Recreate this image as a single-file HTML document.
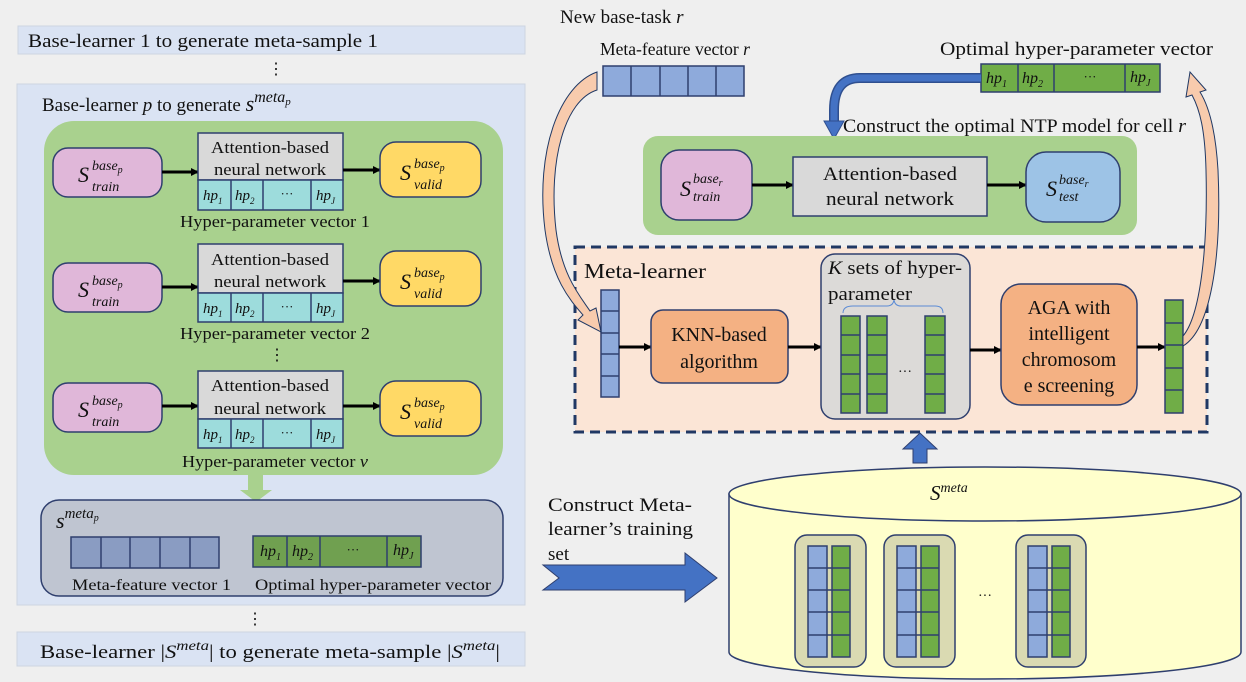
<!DOCTYPE html>
<html><head><meta charset="utf-8"><style>
body{margin:0;background:#efefef}
svg{display:block}
text{font-family:"Liberation Serif",serif;fill:#111}
.i{font-style:italic}
</style></head><body>
<svg width="1246" height="682" viewBox="0 0 1246 682" xmlns="http://www.w3.org/2000/svg">
<defs>
<marker id="ah" markerWidth="8" markerHeight="8" refX="7" refY="4" orient="auto" markerUnits="userSpaceOnUse"><path d="M0,0 L8,4 L0,8 z" fill="#000"/></marker>
</defs>
<rect width="1246" height="682" fill="#efefef"/>
<!-- LEFT -->
<rect x="18" y="26" width="507" height="28" fill="#dae3f3" stroke="#cdd5e2"/>
<text x="28" y="47" font-size="19" textLength="350" lengthAdjust="spacingAndGlyphs">Base-learner 1 to generate meta-sample 1</text>
<text x="268" y="74" font-size="16">⋮</text>
<rect x="17" y="84" width="508" height="521" fill="#dae3f3" stroke="#cdd5e2"/>
<text x="42" y="111" font-size="19">Base-learner <tspan class="i">p</tspan> to generate <tspan class="i" font-size="22">s</tspan><tspan class="i" dy="-9" font-size="16">meta</tspan><tspan class="i" dy="3" font-size="11">p</tspan></text>
<rect x="44" y="121" width="459" height="354" rx="30" fill="#a9d18e"/>
<g>
<rect x="53" y="148" width="109" height="49" rx="15" fill="#e0b7d9" stroke="#2f3f6e" stroke-width="1.5"/>
<text x="78" y="182" class="i" font-size="22">S</text><text x="92" y="170" class="i" font-size="14">base<tspan font-size="10" dy="3">p</tspan></text><text x="92" y="191" class="i" font-size="14">train</text>
<line x1="162" y1="172" x2="198" y2="172" stroke="#000" stroke-width="3" marker-end="url(#ah)"/>
<rect x="198" y="133" width="145" height="47" fill="#d9d9d9" stroke="#2f3f6e" stroke-width="1.5"/>
<text x="270" y="153" font-size="17" text-anchor="middle" textLength="118" lengthAdjust="spacingAndGlyphs">Attention-based</text><text x="270" y="175" font-size="17" text-anchor="middle" textLength="112" lengthAdjust="spacingAndGlyphs">neural network</text>
<rect x="198" y="180" width="145" height="30" fill="#9ddcdc" stroke="#2f3f6e" stroke-width="1.5"/>
<path d="M231,180V210M263,180V210M311,180V210" stroke="#2f3f6e" stroke-width="1.5"/>
<text x="203" y="200" class="i" font-size="15">hp<tspan font-size="9" dy="4">1</tspan></text><text x="235" y="200" class="i" font-size="15">hp<tspan font-size="9" dy="4">2</tspan></text><text x="287" y="198" font-size="13" text-anchor="middle">···</text><text x="316" y="200" class="i" font-size="15">hp<tspan font-size="9" dy="4">J</tspan></text>
<line x1="343" y1="170" x2="380" y2="170" stroke="#000" stroke-width="3" marker-end="url(#ah)"/>
<rect x="380" y="142" width="101" height="55" rx="16" fill="#ffd966" stroke="#2f3f6e" stroke-width="1.5"/>
<text x="400" y="180" class="i" font-size="22">S</text><text x="414" y="168" class="i" font-size="14">base<tspan font-size="10" dy="3">p</tspan></text><text x="414" y="189" class="i" font-size="14">valid</text>
<text x="275" y="227" font-size="17" text-anchor="middle" textLength="190" lengthAdjust="spacingAndGlyphs">Hyper-parameter vector 1</text>
</g>
<g transform="translate(0,113)">
<rect x="53" y="150" width="109" height="49" rx="15" fill="#e0b7d9" stroke="#2f3f6e" stroke-width="1.5"/>
<text x="78" y="184" class="i" font-size="22">S</text><text x="92" y="172" class="i" font-size="14">base<tspan font-size="10" dy="3">p</tspan></text><text x="92" y="193" class="i" font-size="14">train</text>
<line x1="162" y1="174" x2="198" y2="174" stroke="#000" stroke-width="3" marker-end="url(#ah)"/>
<rect x="198" y="131" width="145" height="49" fill="#d9d9d9" stroke="#2f3f6e" stroke-width="1.5"/>
<text x="270" y="152" font-size="17" text-anchor="middle" textLength="118" lengthAdjust="spacingAndGlyphs">Attention-based</text><text x="270" y="174" font-size="17" text-anchor="middle" textLength="112" lengthAdjust="spacingAndGlyphs">neural network</text>
<rect x="198" y="180" width="145" height="29" fill="#9ddcdc" stroke="#2f3f6e" stroke-width="1.5"/>
<path d="M231,180V209M263,180V209M311,180V209" stroke="#2f3f6e" stroke-width="1.5"/>
<text x="203" y="200" class="i" font-size="15">hp<tspan font-size="9" dy="4">1</tspan></text><text x="235" y="200" class="i" font-size="15">hp<tspan font-size="9" dy="4">2</tspan></text><text x="287" y="198" font-size="13" text-anchor="middle">···</text><text x="316" y="200" class="i" font-size="15">hp<tspan font-size="9" dy="4">J</tspan></text>
<line x1="343" y1="168" x2="380" y2="168" stroke="#000" stroke-width="3" marker-end="url(#ah)"/>
<rect x="380" y="138" width="101" height="55" rx="16" fill="#ffd966" stroke="#2f3f6e" stroke-width="1.5"/>
<text x="400" y="176" class="i" font-size="22">S</text><text x="414" y="164" class="i" font-size="14">base<tspan font-size="10" dy="3">p</tspan></text><text x="414" y="185" class="i" font-size="14">valid</text>
<text x="275" y="226" font-size="17" text-anchor="middle" textLength="190" lengthAdjust="spacingAndGlyphs">Hyper-parameter vector 2</text>
</g>
<text x="269" y="360" font-size="16">⋮</text>
<g transform="translate(0,238)">
<rect x="53" y="145" width="109" height="49" rx="15" fill="#e0b7d9" stroke="#2f3f6e" stroke-width="1.5"/>
<text x="78" y="179" class="i" font-size="22">S</text><text x="92" y="167" class="i" font-size="14">base<tspan font-size="10" dy="3">p</tspan></text><text x="92" y="188" class="i" font-size="14">train</text>
<line x1="162" y1="168" x2="198" y2="168" stroke="#000" stroke-width="3" marker-end="url(#ah)"/>
<rect x="198" y="133" width="145" height="48" fill="#d9d9d9" stroke="#2f3f6e" stroke-width="1.5"/>
<text x="270" y="153" font-size="17" text-anchor="middle" textLength="118" lengthAdjust="spacingAndGlyphs">Attention-based</text><text x="270" y="176" font-size="17" text-anchor="middle" textLength="112" lengthAdjust="spacingAndGlyphs">neural network</text>
<rect x="198" y="181" width="145" height="29" fill="#9ddcdc" stroke="#2f3f6e" stroke-width="1.5"/>
<path d="M231,181V210M263,181V210M311,181V210" stroke="#2f3f6e" stroke-width="1.5"/>
<text x="203" y="201" class="i" font-size="15">hp<tspan font-size="9" dy="4">1</tspan></text><text x="235" y="201" class="i" font-size="15">hp<tspan font-size="9" dy="4">2</tspan></text><text x="287" y="199" font-size="13" text-anchor="middle">···</text><text x="316" y="201" class="i" font-size="15">hp<tspan font-size="9" dy="4">J</tspan></text>
<line x1="343" y1="168" x2="380" y2="168" stroke="#000" stroke-width="3" marker-end="url(#ah)"/>
<rect x="380" y="143" width="101" height="55" rx="16" fill="#ffd966" stroke="#2f3f6e" stroke-width="1.5"/>
<text x="400" y="181" class="i" font-size="22">S</text><text x="414" y="169" class="i" font-size="14">base<tspan font-size="10" dy="3">p</tspan></text><text x="414" y="190" class="i" font-size="14">valid</text>
<text x="275" y="229" font-size="17" text-anchor="middle" textLength="186" lengthAdjust="spacingAndGlyphs">Hyper-parameter vector <tspan class="i">v</tspan></text>
</g>
<path d="M248,475H263V490H272L256,502L240,490H248Z" fill="#a9d18e"/>
<rect x="41" y="500" width="462" height="96" rx="18" fill="#bfc5d1" stroke="#2f3f6e" stroke-width="1.5"/>
<text x="56" y="528" class="i" font-size="22">s<tspan font-size="15" dy="-10">meta</tspan><tspan font-size="10" dy="3">p</tspan></text>
<rect x="71" y="537" width="148" height="31" fill="#8a9cc2" stroke="#2f3f6e" stroke-width="1.5"/>
<path d="M101,537V568M130,537V568M160,537V568M190,537V568" stroke="#2f3f6e" stroke-width="1.5"/>
<rect x="253" y="536" width="168" height="31" fill="#70a050" stroke="#2f3f6e" stroke-width="1.5"/>
<path d="M287,536V567M320,536V567M387,536V567" stroke="#2f3f6e" stroke-width="1.5"/>
<text x="260" y="556" class="i" font-size="16">hp<tspan font-size="10" dy="4">1</tspan></text><text x="292" y="556" class="i" font-size="16">hp<tspan font-size="10" dy="4">2</tspan></text><text x="353" y="554" font-size="13" text-anchor="middle">···</text><text x="393" y="555" class="i" font-size="16">hp<tspan font-size="10" dy="4">J</tspan></text>
<text x="72" y="590" font-size="16" fill="#333" textLength="159" lengthAdjust="spacingAndGlyphs">Meta-feature vector 1</text>
<text x="255" y="590" font-size="16" fill="#333" textLength="236" lengthAdjust="spacingAndGlyphs">Optimal hyper-parameter vector</text>
<text x="247" y="624" font-size="16">⋮</text>
<rect x="17" y="632" width="508" height="34" fill="#dae3f3" stroke="#cdd5e2"/>
<text x="40" y="658" font-size="19" textLength="460" lengthAdjust="spacingAndGlyphs">Base-learner |<tspan class="i">S</tspan><tspan class="i" font-size="14" dy="-8">meta</tspan><tspan dy="8">| to generate meta-sample |</tspan><tspan class="i">S</tspan><tspan class="i" font-size="14" dy="-8">meta</tspan><tspan dy="8">|</tspan></text>

<!-- RIGHT -->
<text x="560" y="23" font-size="19">New base-task <tspan class="i">r</tspan></text>
<text x="600" y="55" font-size="18" textLength="150" lengthAdjust="spacingAndGlyphs">Meta-feature vector <tspan class="i">r</tspan></text>
<rect x="603" y="66" width="141" height="30" fill="#8eaadb" stroke="#2f3f6e" stroke-width="1.5"/>
<path d="M631,66V96M660,66V96M688,66V96M716,66V96" stroke="#2f3f6e" stroke-width="1.5"/>
<text x="940" y="55" font-size="19" textLength="273" lengthAdjust="spacingAndGlyphs">Optimal hyper-parameter vector</text>
<rect x="981" y="64" width="179" height="28" fill="#70ad47" stroke="#2f3f6e" stroke-width="1.5"/>
<path d="M1018,64V92M1054,64V92M1125,64V92" stroke="#2f3f6e" stroke-width="1.5"/>
<text x="986" y="83" class="i" font-size="16">hp<tspan font-size="10" dy="4">1</tspan></text><text x="1022" y="83" class="i" font-size="16">hp<tspan font-size="10" dy="4">2</tspan></text><text x="1090" y="81" font-size="13" text-anchor="middle">···</text><text x="1130" y="82" class="i" font-size="16">hp<tspan font-size="10" dy="4">J</tspan></text>
<path d="M981,78H860Q834,78 834,110V122" fill="none" stroke="#2f4f8f" stroke-width="10"/>
<path d="M981,78H860Q834,78 834,110V122" fill="none" stroke="#4472c4" stroke-width="7"/>
<path d="M824,121L844,121L834,139Z" fill="#4472c4" stroke="#2f4f8f"/>
<text x="843" y="132" font-size="19" textLength="343" lengthAdjust="spacingAndGlyphs">Construct the optimal NTP model for cell <tspan class="i">r</tspan></text>
<rect x="643" y="136" width="494" height="99" rx="15" fill="#a9d18e"/>
<rect x="661" y="150" width="91" height="70" rx="18" fill="#e0b7d9" stroke="#2f3f6e" stroke-width="1.5"/>
<text x="680" y="196" class="i" font-size="22">S</text><text x="693" y="183" class="i" font-size="14">base<tspan font-size="10" dy="3">r</tspan></text><text x="693" y="201" class="i" font-size="14">train</text>
<line x1="752" y1="185" x2="793" y2="185" stroke="#000" stroke-width="3" marker-end="url(#ah)"/>
<rect x="793" y="157" width="194" height="59" fill="#d9d9d9" stroke="#2f3f6e" stroke-width="1.5"/>
<text x="890" y="180" font-size="19" text-anchor="middle" textLength="134" lengthAdjust="spacingAndGlyphs">Attention-based</text><text x="890" y="205" font-size="19" text-anchor="middle" textLength="128" lengthAdjust="spacingAndGlyphs">neural network</text>
<line x1="987" y1="185" x2="1026" y2="185" stroke="#000" stroke-width="3" marker-end="url(#ah)"/>
<rect x="1026" y="152" width="94" height="70" rx="20" fill="#9dc3e6" stroke="#2f3f6e" stroke-width="1.5"/>
<text x="1046" y="196" class="i" font-size="22">S</text><text x="1059" y="184" class="i" font-size="14">base<tspan font-size="10" dy="3">r</tspan></text><text x="1059" y="201" class="i" font-size="14">test</text>
<rect x="575" y="247" width="632" height="185" fill="#fbe5d6" stroke="#203864" stroke-width="3" stroke-dasharray="10,6"/>
<text x="584" y="278" font-size="21" textLength="122" lengthAdjust="spacingAndGlyphs">Meta-learner</text>
<rect x="601" y="290" width="18" height="107" fill="#8eaadb" stroke="#2f3f6e" stroke-width="1.5"/>
<path d="M601,311H619M601,333H619M601,354H619M601,376H619" stroke="#2f3f6e" stroke-width="1.5"/>
<line x1="619" y1="347" x2="651" y2="347" stroke="#000" stroke-width="3" marker-end="url(#ah)"/>
<rect x="651" y="310" width="137" height="73" rx="12" fill="#f4b183" stroke="#2f3f6e" stroke-width="1.5"/>
<text x="719" y="341" font-size="20" text-anchor="middle">KNN-based</text><text x="719" y="368" font-size="20" text-anchor="middle">algorithm</text>
<line x1="788" y1="347" x2="821" y2="347" stroke="#000" stroke-width="3" marker-end="url(#ah)"/>
<rect x="821" y="254" width="149" height="165" rx="14" fill="#dcdad8" stroke="#2f3f6e" stroke-width="1.5"/>
<text x="828" y="274" font-size="19" textLength="134" lengthAdjust="spacingAndGlyphs"><tspan class="i">K</tspan> sets of hyper-</text><text x="828" y="300" font-size="19" textLength="84" lengthAdjust="spacingAndGlyphs">parameter</text>
<path d="M843,313Q843,306 853,306H887Q893,306 894,300Q895,306 901,306H935Q943,306 943,313" fill="none" stroke="#5b8bd5" stroke-width="1"/>
<g fill="#70ad47" stroke="#2f3f6e" stroke-width="1.5">
<rect x="841" y="316" width="19" height="97"/><rect x="867" y="316" width="20" height="97"/><rect x="925" y="316" width="20" height="97"/>
</g>
<path d="M841,335H860M841,355H860M841,374H860M841,394H860M867,335H887M867,355H887M867,374H887M867,394H887M925,335H945M925,355H945M925,374H945M925,394H945" stroke="#2f3f6e" stroke-width="1.5"/>
<text x="905" y="376" font-size="14" text-anchor="middle">···</text>
<line x1="970" y1="350" x2="1001" y2="350" stroke="#000" stroke-width="3" marker-end="url(#ah)"/>
<rect x="1001" y="284" width="136" height="121" rx="20" fill="#f4b183" stroke="#2f3f6e" stroke-width="1.5"/>
<text x="1069" y="314" font-size="20" text-anchor="middle">AGA with</text><text x="1069" y="340" font-size="20" text-anchor="middle">intelligent</text><text x="1069" y="366" font-size="20" text-anchor="middle">chromosom</text><text x="1069" y="392" font-size="20" text-anchor="middle">e screening</text>
<line x1="1137" y1="347" x2="1165" y2="347" stroke="#000" stroke-width="3" marker-end="url(#ah)"/>
<rect x="1165" y="300" width="18" height="113" fill="#70ad47" stroke="#2f3f6e" stroke-width="1.5"/>
<path d="M1165,323H1183M1165,345H1183M1165,368H1183M1165,390H1183" stroke="#2f3f6e" stroke-width="1.5"/>
<path d="M597,72 C560,85 535,150 545,230 C552,280 570,300 583,315 L578,320 L601,332 L596,308 L590,311 C580,296 562,276 556,230 C548,160 565,100 597,90 Z" fill="#f8cbad" stroke="#1f3864" stroke-width="1"/>
<path d="M1183,346 C1210,330 1222,260 1218,170 C1215,120 1205,100 1200,92 L1206,90 L1190,72 L1186,97 L1192,95 C1200,110 1205,130 1206,170 C1208,250 1200,316 1183,336 Z" fill="#f8cbad" stroke="#1f3864" stroke-width="1"/>
<path d="M913,463V449H903L920,433L937,449H927V463Z" fill="#4472c4" stroke="#2f3f6e"/>
<path d="M729,494V652A256,27 0 0 0 1241,652V494Z" fill="#ffffcc" stroke="#2f3f6e" stroke-width="1.5"/>
<ellipse cx="985" cy="494" rx="256" ry="27" fill="#ffffcc" stroke="#2f3f6e" stroke-width="1.5"/>
<text x="930" y="500" class="i" font-size="21">S<tspan font-size="14" dy="-8">meta</tspan></text>
<g>
<rect x="795" y="535" width="71" height="132" rx="12" fill="#dadab2" stroke="#2f3f6e" stroke-width="1.5"/>
<rect x="884" y="535" width="71" height="132" rx="12" fill="#dadab2" stroke="#2f3f6e" stroke-width="1.5"/>
<rect x="1016" y="535" width="70" height="132" rx="12" fill="#dadab2" stroke="#2f3f6e" stroke-width="1.5"/>
<g stroke="#2f3f6e" stroke-width="1.5">
<rect x="808" y="546" width="19" height="111" fill="#8eaadb"/><rect x="832" y="546" width="18" height="111" fill="#70ad47"/>
<rect x="897" y="546" width="19" height="111" fill="#8eaadb"/><rect x="921" y="546" width="18" height="111" fill="#70ad47"/>
<rect x="1028" y="546" width="19" height="111" fill="#8eaadb"/><rect x="1052" y="546" width="18" height="111" fill="#70ad47"/>
<path d="M808,568H850M808,590H850M808,612H850M808,635H850M897,568H939M897,590H939M897,612H939M897,635H939M1028,568H1070M1028,590H1070M1028,612H1070M1028,635H1070"/>
</g>
</g>
<text x="985" y="600" font-size="14" text-anchor="middle">···</text>
<path d="M543,565H685V553L717,578L685,602V590H543L559,578Z" fill="#4472c4" stroke="#2f3f6e"/>
<text x="548" y="511" font-size="19" textLength="144" lengthAdjust="spacingAndGlyphs">Construct Meta-</text><text x="548" y="535" font-size="19" textLength="145" lengthAdjust="spacingAndGlyphs">learner’s training</text><text x="548" y="560" font-size="19">set</text>
</svg>
</body></html>
